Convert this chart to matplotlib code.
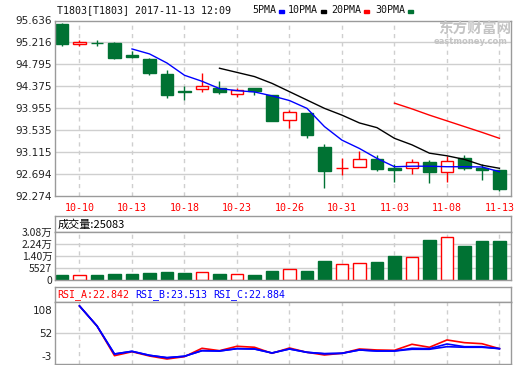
import numpy as np
import matplotlib
matplotlib.use("Agg")
import matplotlib.pyplot as plt
from matplotlib.patches import Rectangle

# ---------------- data ----------------
dates = ['10-09', '10-10', '10-11', '10-12', '10-13', '10-16', '10-17', '10-18', '10-19',
         '10-20', '10-23', '10-24', '10-25', '10-26', '10-27', '10-30', '10-31', '11-01',
         '11-02', '11-03', '11-06', '11-07', '11-08', '11-09', '11-10', '11-13']
opens = [95.56, 95.19, 95.21, 95.205, 94.98, 94.90, 94.61, 94.275, 94.32, 94.34, 94.22, 94.35, 94.21,
         93.72, 93.86, 93.21, 92.81, 92.82, 92.98, 92.81, 92.80, 92.92, 92.72, 93.00, 92.81, 92.77]
highs = [95.58, 95.26, 95.26, 95.23, 95.05, 94.92, 94.69, 94.37, 94.63, 94.47, 94.34, 94.35, 94.21,
         93.92, 93.86, 93.27, 92.997, 93.13, 93.06, 92.89, 92.97, 92.96, 93.03, 93.06, 92.89, 92.77]
lows = [95.15, 95.15, 95.14, 94.90, 94.92, 94.585, 94.14, 94.105, 94.27, 94.23, 94.16, 94.21, 93.71,
        93.58, 93.38, 92.43, 92.67, 92.82, 92.75, 92.54, 92.685, 92.52, 92.54, 92.76, 92.58, 92.37]
closes = [95.19, 95.23, 95.205, 94.92, 94.94, 94.62, 94.21, 94.27, 94.37, 94.27, 94.31, 94.28, 93.71,
          93.88, 93.43, 92.75, 92.81, 92.98, 92.79, 92.77, 92.915, 92.72, 92.94, 92.81, 92.77, 92.40]
volumes = [3400, 3300, 3400, 4000, 4000, 4700, 5300, 4700, 5100, 4000, 3800, 3400, 6000,
           7000, 6000, 12400, 10300, 10900, 11700, 15600, 14800, 25900, 27600, 22000, 25200, 25083]

# moving averages as shown (start index, values)
ma5_start = 4
ma5 = [95.09, 94.995, 94.82, 94.585, 94.47, 94.33, 94.29, 94.265, 94.19, 94.10, 93.95, 93.60,
       93.34, 93.18, 92.99, 92.83, 92.84, 92.84, 92.83, 92.83, 92.825, 92.735]
ma10_start = 9
ma10 = [94.72, 94.64, 94.56, 94.43, 94.27, 94.11, 93.95, 93.82, 93.67, 93.58, 93.375, 93.25,
        93.09, 93.04, 92.97, 92.86, 92.80]
ma20_start = 19
ma20 = [94.05, 93.94, 93.82, 93.71, 93.60, 93.49, 93.375]

# RSI (values from index 1)
rsi_start = 1
rsi_a = [118.6, 69.8, -2.6, 7.0, -3.4, -10.7, -5.0, 15.4, 9.6, 20.3, 17.9, 3.2, 16.1, 5.6, -0.9,
         3.2, 13.7, 11.3, 10.5, 25.2, 17.9, 35.7, 29.1, 26.6, 14.5]
rsi_b = [118.6, 69.8, 1.5, 8.0, -1.7, -7.5, -4.0, 9.6, 8.8, 14.5, 13.7, 4.0, 13.7, 5.6, 2.2,
         3.2, 11.3, 8.8, 8.8, 15.4, 14.5, 25.9, 19.3, 19.3, 14.5]
rsi_c = [118.6, 69.8, 1.5, 8.0, -1.7, -7.5, -4.0, 9.6, 8.8, 14.5, 13.7, 4.0, 13.7, 5.6, 2.2,
         3.2, 11.3, 8.8, 8.8, 13.0, 13.0, 19.3, 17.9, 17.9, 14.5]

price_ticks = [92.274, 92.694, 93.115, 93.535, 93.955, 94.375, 94.795, 95.216, 95.636]
vol_ticks = [0, 7700, 15400, 23100, 30800]
vol_labels = ['0', '5527', '1.40万', '2.24万', '3.08万']
rsi_ticks = [108, 52, -3]
label_idx = [1, 4, 7, 10, 13, 16, 19, 22, 25]

# ---------------- style ----------------
W, H = 520, 365
GREEN = '#007233'
RED = '#ff0000'
GRID = '#cfcfcf'
FRAME = '#9a9a9a'
CJK = ['Noto Sans CJK SC', 'DejaVu Sans']
MONO = 'DejaVu Sans Mono'

fig = plt.figure(figsize=(W / 100, H / 100), dpi=100)

def rect(top, bottom, left=55, right=511):
    return [left / W, 1 - bottom / H, (right - left) / W, (bottom - top) / H]

def frame(ax):
    for s in ax.spines.values():
        s.set_color(FRAME)
        s.set_linewidth(1)
    ax.tick_params(length=0, labelsize=7.5, colors='#222222')

x = np.arange(len(dates))
xlim = (-0.4, 25.66)
up = np.array(closes) >= np.array(opens)
bw = 0.72

# ---------------- main panel ----------------
ax = fig.add_axes(rect(20.5, 195.7))
frame(ax)
ax.set_xlim(*xlim)
ax.set_ylim(price_ticks[0], price_ticks[-1])
ax.set_yticks(price_ticks)
ax.set_yticklabels([f'{v:.3f}' for v in price_ticks])
for v in price_ticks[1:-1]:
    ax.axhline(v, color=GRID, lw=1, zorder=0)
for i in label_idx:
    ax.axvline(i, color=GRID, lw=1, ls=(0, (3, 3)), zorder=0)
ax.set_xticks(label_idx)
ax.set_xticklabels([dates[i] for i in label_idx], color=RED, family=MONO, fontsize=7.2)
ax.tick_params(axis='x', pad=5)
ax.tick_params(axis='y', pad=2)

for i in x:
    c = RED if up[i] else GREEN
    ax.vlines(i, lows[i], highs[i], color=c, lw=1, zorder=1)
    lo = min(opens[i], closes[i])
    hgt = abs(closes[i] - opens[i])
    ax.bar(i, hgt, bottom=lo, width=bw, color='white' if up[i] else GREEN,
           edgecolor=c, lw=1, zorder=2)

ax.plot(np.arange(ma5_start, ma5_start + len(ma5)), ma5, color='#0000ff', lw=1, zorder=3)
ax.plot(np.arange(ma10_start, ma10_start + len(ma10)), ma10, color='black', lw=1, zorder=3)
ax.plot(np.arange(ma20_start, ma20_start + len(ma20)), ma20, color=RED, lw=1, zorder=3)

# watermark
fig.text(438 / W, 1 - 29 / H, '东方财富网', family=CJK, fontsize=10.5, fontweight='bold',
         color='#c4c4c4', va='center', ha='left')
fig.text(471 / W, 1 - 41 / H, 'eastmoney.com', fontsize=6, fontweight='bold',
         color='#c4c4c4', va='center', ha='center')

# header + legend
fig.text(57 / W, 1 - 10 / H, 'T1803[T1803] 2017-11-13 12:09', family=MONO, fontsize=7.2,
         va='center', ha='left', color='#111111')
legend_items = [('5PMA', 252, '#0000ff'), ('10PMA', 288, 'black'),
                ('20PMA', 331.5, RED), ('30PMA', 375, GREEN)]
for name, px, col in legend_items:
    fig.text(px / W, 1 - 10 / H, name, family=MONO, fontsize=7.2, va='center', ha='left',
             color='#111111')
    dx = px + len(name) * 6 + 2.5
    fig.patches.append(Rectangle((dx / W, 1 - 12.5 / H), 5 / W, 2.2 / H, color=col,
                                 transform=fig.transFigure, figure=fig))

# ---------------- volume panel ----------------
axh = fig.add_axes(rect(215.7, 232.3))
frame(axh)
axh.set_xticks([])
axh.set_yticks([])
axh.text(0.006, 0.45, '成交量:25083', transform=axh.transAxes, family=CJK, fontsize=8,
         va='center', ha='left')

axv = fig.add_axes(rect(232.3, 280.3))
frame(axv)
axv.set_xlim(*xlim)
axv.set_ylim(0, vol_ticks[-1])
axv.set_xticks([])
axv.set_yticks(vol_ticks)
axv.set_yticklabels(vol_labels, family=CJK, fontsize=7.5)
axv.tick_params(axis='y', pad=2)
for v in vol_ticks[1:-1]:
    axv.axhline(v, color=GRID, lw=1, zorder=0)
for i in label_idx:
    axv.axvline(i, color=GRID, lw=1, ls=(0, (3, 3)), zorder=0)
axv.bar(x, volumes, width=bw, color=['white' if u else GREEN for u in up],
        edgecolor=[RED if u else GREEN for u in up], lw=1, zorder=2)

# ---------------- RSI panel ----------------
axrh = fig.add_axes(rect(286.7, 301.7))
frame(axrh)
axrh.set_xticks([])
axrh.set_yticks([])
for txt, px, col in [('RSI_A:22.842', 57, RED), ('RSI_B:23.513', 135, '#0000ff'),
                     ('RSI_C:22.884', 213, '#0000ff')]:
    fig.text(px / W, 1 - 294.5 / H, txt, family=MONO, fontsize=7.2, color=col,
             va='center', ha='left')

axr = fig.add_axes(rect(301.7, 364))
frame(axr)
axr.set_xlim(*xlim)
axr.set_ylim(-22.9, 129)
axr.set_xticks([])
axr.set_yticks(rsi_ticks)
axr.set_yticklabels([str(v) for v in rsi_ticks])
axr.tick_params(axis='y', pad=2)
axr.axhline(52, color=GRID, lw=1, zorder=0)
for i in label_idx:
    axr.axvline(i, color=GRID, lw=1, ls=(0, (3, 3)), zorder=0)
xr = np.arange(rsi_start, rsi_start + len(rsi_a))
axr.plot(xr, rsi_a, color=RED, lw=1.2, zorder=2)
axr.plot(xr, rsi_c, color='#0000ff', lw=1.2, zorder=3)
axr.plot(xr, rsi_b, color='#0000ff', lw=1.2, zorder=3)

fig.savefig('out.png', dpi=100)
